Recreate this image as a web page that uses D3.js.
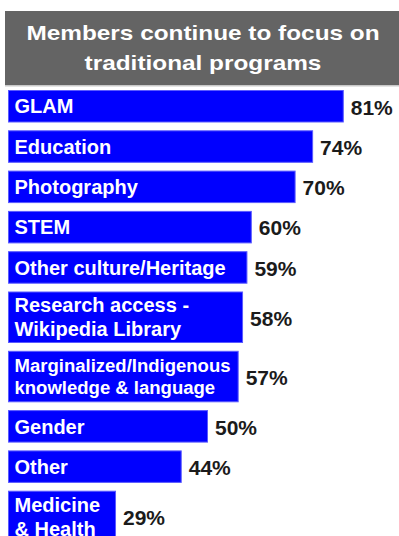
<!DOCTYPE html>
<html>
<head>
<meta charset="utf-8">
<script src="https://cdn.jsdelivr.net/npm/d3@7"></script>
<style>
  html, body { margin: 0; padding: 0; background: #ffffff; }
  svg { display: block; }
  text { font-family: "Liberation Sans", Arial, Helvetica, sans-serif; font-weight: bold; }
</style>
</head>
<body>
<svg id="chart" width="399" height="536"></svg>
<script>
// Share of members running each kind of program (%)
const titleLines = ["Members continue to focus on", "traditional programs"];
const categories = [
  ["GLAM"],
  ["Education"],
  ["Photography"],
  ["STEM"],
  ["Other culture/Heritage"],
  ["Research access -", "Wikipedia Library"],
  ["Marginalized/Indigenous", "knowledge & language"],
  ["Gender"],
  ["Other"],
  ["Medicine", "& Health"]
];
const values = [81, 74, 70, 60, 59, 58, 57, 50, 44, 29];

const W = 399, H = 536;
const svg = d3.select("#chart");

// ---- title banner ----
const banner = { x: 5, y: 11, h: 74 };
svg.append("rect")
  .attr("x", banner.x).attr("y", banner.y)
  .attr("width", W - banner.x).attr("height", banner.h)
  .attr("fill", "#646464");
svg.append("rect")
  .attr("x", banner.x).attr("y", banner.y + banner.h)
  .attr("width", W - banner.x).attr("height", 1.5)
  .attr("fill", "#c9c9c9");

const titleG = svg.append("g")
  .attr("transform", `translate(${(banner.x + W) / 2 + 1},0) scale(1.16,1)`);
titleG.selectAll("text")
  .data(titleLines)
  .join("text")
  .attr("x", 0)
  .attr("y", (d, i) => 40 + i * 30)
  .attr("text-anchor", "middle")
  .attr("font-size", 21)
  .attr("fill", "#ffffff")
  .text(d => d);

// ---- bars ----
const left = 8;
const top0 = 90;
const gap = 7.8;
const rowH = n => (n > 1 ? 51.5 : 32.5);

// bars start at the left margin; the scale's zero sits just off-canvas
const x = d3.scaleLinear().domain([0, 100]).range([-11, 427]);

const heights = categories.map(c => rowH(c.length));
const tops = heights.map((h, i) => top0 + d3.sum(heights.slice(0, i)) + i * gap);

const rows = categories.map((lines, i) => ({
  lines, value: values[i], y: tops[i], h: heights[i]
}));

const g = svg.append("g");
const row = g.selectAll("g.row")
  .data(rows)
  .join("g")
  .attr("class", "row");

row.append("rect")
  .attr("x", left + 0.5)
  .attr("y", d => d.y + 0.5)
  .attr("width", d => x(d.value) - left - 1)
  .attr("height", d => d.h - 1)
  .attr("fill", "#0000ff")
  .attr("stroke", "#5a5aff")
  .attr("stroke-width", 1);

// category labels inside the bars, shrunk when a line would not fit
const padL = 6.5, padR = 8;
const ctx = document.createElement("canvas").getContext("2d");
function widthAt(txt, size) {
  ctx.font = `bold ${size}px "Liberation Sans", Arial, sans-serif`;
  return ctx.measureText(txt).width;
}

row.each(function(d) {
  const sel = d3.select(this);
  const avail = x(d.value) - left - padL - padR;
  let size = 20;
  const widest = d3.max(d.lines, l => widthAt(l, size));
  if (widest > avail) size = size * avail / widest;
  const cap = size * 0.716;
  const lh = size * 1.2;
  const block = cap + lh * (d.lines.length - 1);
  const cy = d.y + d.h / 2;
  const firstBase = cy - block / 2 + cap;
  sel.selectAll("text.lab")
    .data(d.lines)
    .join("text")
    .attr("class", "lab")
    .attr("x", left + padL)
    .attr("y", (l, i) => firstBase + i * lh)
    .attr("font-size", size)
    .attr("fill", "#ffffff")
    .text(l => l);
});

// value labels to the right of each bar
row.append("text")
  .attr("x", d => x(d.value) + 7)
  .attr("y", d => d.y + d.h / 2 + 8.3)
  .attr("font-size", 21)
  .attr("fill", "#1b1b1b")
  .text(d => d.value + "%");
</script>
</body>
</html>
